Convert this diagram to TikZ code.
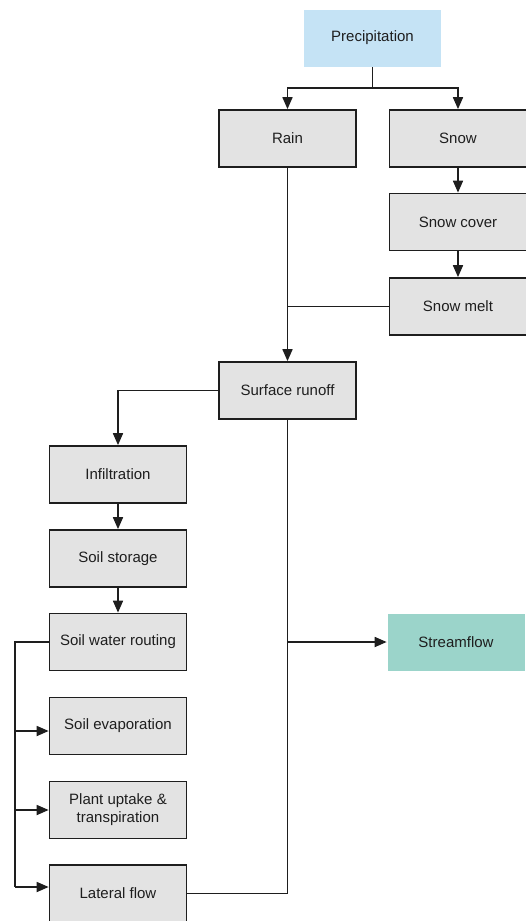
\documentclass[tikz,border=0pt]{standalone}
\usepackage{fontspec}
\setmainfont{Liberation Sans}
\usetikzlibrary{arrows.meta}
\definecolor{boxgray}{HTML}{E3E3E3}
\definecolor{precblue}{HTML}{C5E3F5}
\definecolor{streamteal}{HTML}{9BD4CA}
\definecolor{ink}{HTML}{1E1E1E}
\begin{document}
\begin{tikzpicture}[x=1pt,y=-1pt,
  box/.style={draw=ink, line width=1.7pt, fill=boxgray, minimum width=137pt, minimum height=57pt,
    inner sep=0pt, align=center, font=\fontsize{15}{18}\selectfont, text=ink},
  flatbox/.style={box, draw=none},
  conn/.style={draw=ink, line width=1.7pt},
  arr/.style={conn, -{Triangle[length=12pt,width=10pt]}}]
\useasboundingbox (0,0) rectangle (525,921);
\node[flatbox, fill=precblue] (prec) at (372.5,38) {Precipitation};
\node[box] (rain) at (287.5,138.5) {Rain};
\node[box] (snow) at (458,138.5) {Snow};
\node[box] (snowcover) at (458,222) {Snow cover};
\node[box] (snowmelt) at (458,306.5) {Snow melt};
\node[box] (surf) at (287.5,390.5) {Surface runoff};
\node[box] (infil) at (118,474.5) {Infiltration};
\node[box] (soilstor) at (118,558.5) {Soil storage};
\node[box] (swr) at (118,642) {Soil water routing};
\node[box] (soilevap) at (118,726) {Soil evaporation};
\node[box] (plant) at (118,810) {Plant uptake \&\\transpiration};
\node[box] (lateral) at (118,893.5) {Lateral flow};
\node[flatbox, fill=streamteal] (stream) at (456,642) {Streamflow};
% top split
\coordinate (j1) at (372.5,88);
\draw[conn] (prec.south) -- (j1);
\draw[arr] (j1) -| (rain.north);
\draw[arr] (j1) -| (snow.north);
\draw[arr] (snow) -- (snowcover);
\draw[arr] (snowcover) -- (snowmelt);
\draw[arr] (rain) -- (surf);
\draw[conn] (snowmelt.west) -- (snowmelt.west -| rain.south);
% soil chain
\draw[arr] (surf.west) -| (infil.north);
\draw[arr] (infil) -- (soilstor);
\draw[arr] (soilstor) -- (swr);
% left bus
\coordinate (bustop) at (15,642);
\coordinate (busa) at (15,731);
\coordinate (busb) at (15,810);
\coordinate (busc) at (15,887);
\draw[conn] (swr.west) -- (bustop) -- (busc);
\draw[arr] (busa) -- (busa -| soilevap.west);
\draw[arr] (busb) -- (busb -| plant.west);
\draw[arr] (busc) -- (busc -| lateral.west);
% streamflow
\draw[conn] (lateral.east) -| (surf.south);
\draw[arr] (stream.west -| surf.south) -- (stream.west);
\end{tikzpicture}
\end{document}
